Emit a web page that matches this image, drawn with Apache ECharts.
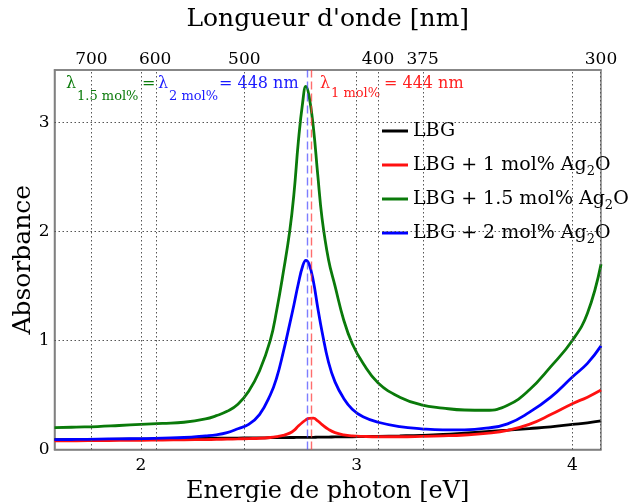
<!DOCTYPE html>
<html>
<head>
<meta charset="utf-8">
<script src="https://cdn.jsdelivr.net/npm/echarts@6/dist/echarts.min.js"></script>
<style>
  html, body { margin: 0; padding: 0; background: #fff; }
  #chart { width: 637px; height: 502px; }
</style>
</head>
<body>
<div id="chart"></div>
<script>
// ---------------- data ----------------
const energyEv = [1.6,1.7,1.8,1.9,2.0,2.1,2.2,2.3,2.35,2.4,2.45,2.5,2.55,2.6,2.63,2.66,2.69,2.71,2.73,2.75,2.765,2.78,2.8,2.82,2.84,2.87,2.9,2.94,2.98,3.03,3.1,3.2,3.3,3.4,3.5,3.6,3.7,3.8,3.9,4.0,4.07,4.133];
const absLBG = [0.09,0.09,0.092,0.094,0.096,0.098,0.10,0.102,0.103,0.104,0.105,0.106,0.107,0.108,0.109,0.109,0.11,0.11,0.111,0.111,0.112,0.112,0.112,0.113,0.113,0.114,0.115,0.116,0.117,0.119,0.121,0.125,0.13,0.138,0.15,0.163,0.177,0.192,0.208,0.23,0.245,0.263];
const abs1mol = [0.08,0.08,0.082,0.083,0.085,0.087,0.089,0.091,0.093,0.095,0.097,0.10,0.103,0.11,0.118,0.13,0.15,0.175,0.215,0.25,0.272,0.286,0.287,0.262,0.228,0.185,0.155,0.135,0.125,0.12,0.117,0.117,0.12,0.125,0.133,0.148,0.175,0.23,0.32,0.42,0.48,0.545];
const abs15mol = [0.20,0.205,0.21,0.22,0.23,0.24,0.25,0.28,0.31,0.35,0.415,0.535,0.72,1.0,1.28,1.62,2.0,2.35,2.82,3.18,3.33,3.24,2.95,2.52,2.12,1.74,1.50,1.19,0.97,0.79,0.61,0.48,0.41,0.38,0.362,0.36,0.405,0.545,0.76,1.0,1.25,1.70];
const abs2mol = [0.09,0.092,0.095,0.098,0.10,0.105,0.11,0.125,0.135,0.155,0.19,0.23,0.32,0.50,0.66,0.89,1.15,1.33,1.52,1.68,1.735,1.70,1.54,1.30,1.08,0.80,0.62,0.47,0.37,0.30,0.25,0.21,0.19,0.18,0.18,0.195,0.235,0.34,0.48,0.665,0.79,0.95];

const seriesNames = ['LBG', 'LBG + 1 mol% Ag2O', 'LBG + 1.5 mol% Ag2O', 'LBG + 2 mol% Ag2O'];
const bottomTicksEv = [2, 3, 4];
const topTicksNm = [700, 600, 500, 400, 375, 300];
const yTicks = [0, 1, 2, 3];
const gridYValues = [1, 2, 3];
const peakNm1mol = 444;
const peakNm2mol = 448;   // also 1.5 mol%

const HC = 1239.84; // eV*nm
const nmToEv = nm => HC / nm;
const xMin = 1.6, xMax = nmToEv(300), yMin = 0, yMax = 3.48;

// ---------------- chart ----------------
const FONT = '"DejaVu Serif", serif';
const chart = echarts.init(document.getElementById('chart'), null, { renderer: 'canvas' });

const pairs = ys => energyEv.map((e, i) => [e, ys[i]]);
const topTickEv = topTicksNm.map(nmToEv);

const gridLines = []
  .concat(bottomTicksEv.map(v => ({ xAxis: v })))
  .concat(topTickEv.map(v => ({ xAxis: v })))
  .concat(gridYValues.map(v => ({ yAxis: v })));

const legendFmt = name => name.replace('Ag2O', 'Ag{s|2}O');

const lineSeries = (name, ys, color, extra) => Object.assign({
  name, type: 'line', data: pairs(ys), showSymbol: false, symbol: 'none',
  smooth: 0.45, lineStyle: { color, width: 2.8 }, itemStyle: { color },
  xAxisIndex: 0, yAxisIndex: 0, animation: false, z: 3
}, extra || {});

const option = {
  backgroundColor: '#fff',
  animation: false,
  grid: { left: 54.5, right: 36, top: 70, bottom: 52.5, outerBoundsMode: 'none', containLabel: false,
          show: true, borderColor: '#808080', borderWidth: 1.5, backgroundColor: 'transparent' },
  legend: {
    data: seriesNames,
    orient: 'vertical',
    left: 377, top: 113,
    itemWidth: 26, itemHeight: 3, itemGap: 8,
    icon: 'rect',
    formatter: legendFmt,
    textStyle: {
      fontFamily: FONT, fontSize: 19, color: '#000', lineHeight: 26,
      rich: { s: { fontFamily: FONT, fontSize: 13, lineHeight: 8, verticalAlign: 'bottom', color: '#000' } }
    }
  },
  xAxis: [
    {
      type: 'value', position: 'bottom', min: xMin, max: xMax,
      name: 'Energie de photon [eV]', nameLocation: 'middle', nameGap: 27,
      nameTextStyle: { fontFamily: FONT, fontSize: 24, color: '#000' },
      axisLine: { show: true, lineStyle: { color: '#808080', width: 1.5 } },
      axisTick: { show: false, customValues: bottomTicksEv },
      axisLabel: { customValues: bottomTicksEv, fontFamily: FONT, fontSize: 17, color: '#000', margin: 8 },
      splitLine: { show: false }
    },
    {
      type: 'value', position: 'top', min: xMin, max: xMax,
      name: 'Longueur d\'onde [nm]', nameLocation: 'middle', nameGap: 38,
      nameTextStyle: { fontFamily: FONT, fontSize: 25, color: '#000' },
      axisLine: { show: true, lineStyle: { color: '#808080', width: 1.5 } },
      axisTick: { show: false, customValues: topTickEv },
      axisLabel: { customValues: topTickEv, formatter: v => String(Math.round(HC / v)), fontFamily: FONT, fontSize: 17, color: '#000', margin: 2 },
      splitLine: { show: false }
    }
  ],
  yAxis: [
    {
      type: 'value', min: yMin, max: yMax,
      name: 'Absorbance', nameLocation: 'middle', nameGap: 19, nameMoveOverlap: false,
      nameTextStyle: { fontFamily: FONT, fontSize: 25, color: '#000' },
      axisLine: { show: true, lineStyle: { color: '#808080', width: 1.5 } },
      axisTick: { show: false, customValues: yTicks },
      axisLabel: { customValues: yTicks, fontFamily: FONT, fontSize: 17, color: '#000', margin: 5 },
      splitLine: { show: false }
    }
  ],
  series: [
    {
      name: 'grid', type: 'line', data: [], silent: true, z: 1,
      markLine: {
        silent: true, symbol: ['none', 'none'], animation: false,
        label: { show: false },
        lineStyle: { color: '#555', type: [1.5, 2.5], width: 1 },
        data: gridLines
      }
    },
    lineSeries(seriesNames[0], absLBG, '#000000'),
    lineSeries(seriesNames[1], abs1mol, '#ff1010', {
      markLine: {
        silent: true, symbol: ['none', 'none'], animation: false, label: { show: false },
        lineStyle: { color: 'rgba(255,60,60,0.75)', type: [8, 4], width: 1.4 },
        data: [{ xAxis: nmToEv(peakNm1mol) }]
      }
    }),
    lineSeries(seriesNames[2], abs15mol, '#0a7a0a'),
    lineSeries(seriesNames[3], abs2mol, '#0000ff', {
      markLine: {
        silent: true, symbol: ['none', 'none'], animation: false, label: { show: false },
        lineStyle: { color: 'rgba(70,70,255,0.7)', type: [8, 4], width: 1.4 },
        data: [{ xAxis: nmToEv(peakNm2mol) }]
      }
    })
  ],
  graphic: [
    { type: 'text', x: 66, y: 84, style: { text: 'λ', fill: '#0a7a0a', font: '16px ' + FONT, verticalAlign: 'middle', textVerticalAlign: 'middle' } },
    { type: 'text', x: 77, y: 97, style: { text: '1.5 mol%', fill: '#0a7a0a', font: '13px ' + FONT, verticalAlign: 'middle', textVerticalAlign: 'middle' } },
    { type: 'text', x: 142, y: 84, style: { text: '=', fill: '#0a7a0a', font: '16px ' + FONT, verticalAlign: 'middle', textVerticalAlign: 'middle' } },
    { type: 'text', x: 158, y: 84, style: { text: 'λ', fill: '#1a1aff', font: '16px ' + FONT, verticalAlign: 'middle', textVerticalAlign: 'middle' } },
    { type: 'text', x: 169, y: 97, style: { text: '2 mol%', fill: '#1a1aff', font: '13px ' + FONT, verticalAlign: 'middle', textVerticalAlign: 'middle' } },
    { type: 'text', x: 219, y: 84, style: { text: '= ' + peakNm2mol + ' nm', fill: '#1a1aff', font: '16px ' + FONT, verticalAlign: 'middle', textVerticalAlign: 'middle' } },
    { type: 'text', x: 320, y: 84, style: { text: 'λ', fill: '#ff2020', font: '16px ' + FONT, verticalAlign: 'middle', textVerticalAlign: 'middle' } },
    { type: 'text', x: 331, y: 94, style: { text: '1 mol%', fill: '#ff2020', font: '13px ' + FONT, verticalAlign: 'middle', textVerticalAlign: 'middle' } },
    { type: 'text', x: 384, y: 84, style: { text: '= ' + peakNm1mol + ' nm', fill: '#ff2020', font: '16px ' + FONT, verticalAlign: 'middle', textVerticalAlign: 'middle' } }
  ]
};
chart.setOption(option);
</script>
</body>
</html>
